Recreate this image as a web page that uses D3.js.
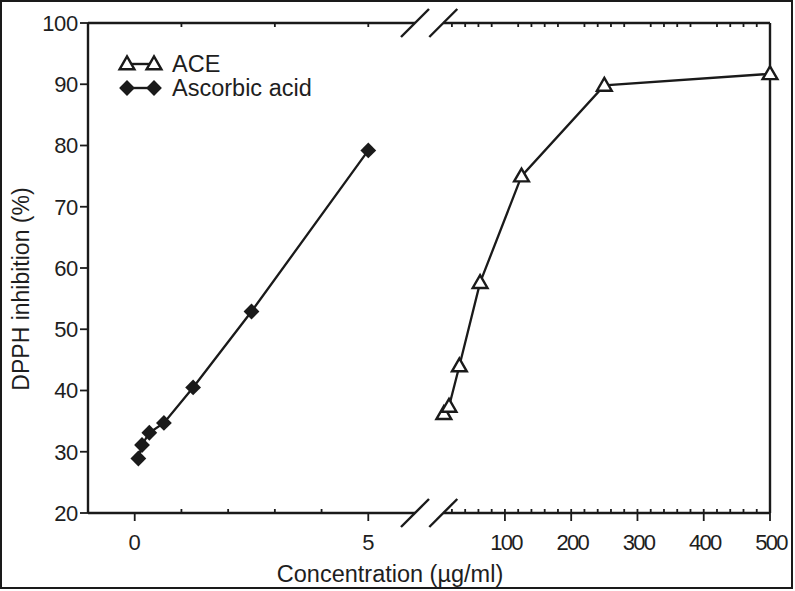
<!DOCTYPE html>
<html>
<head>
<meta charset="utf-8">
<script src="https://cdn.jsdelivr.net/npm/d3@7"></script>
<style>
  body { margin: 0; background: #fff; }
  text { font-family: "Liberation Sans", Arial, sans-serif; fill: #1e1e1e; }
</style>
</head>
<body>
<svg id="chart" width="795" height="591"></svg>
<script>
// data
const concAsc = [0.078, 0.156, 0.3125, 0.625, 1.25, 2.5, 5];
const inhAsc  = [28.9, 31.1, 33.1, 34.7, 40.5, 52.9, 79.2];
const concAce = [7.8, 15.6, 31.25, 62.5, 125, 250, 500];
const inhAce  = [36.2, 37.4, 44.0, 57.6, 75.0, 89.8, 91.7];
const yTicks = [20, 30, 40, 50, 60, 70, 80, 90, 100];
const leftMajor = [0, 5], leftMinor = [1, 2, 3, 4], leftTop = [1, 3, 5];
const rightMajor = [100, 200, 300, 400, 500];
const rightMinor = d3.range(20, 500, 20).filter(v => v % 100 !== 0);
const legendItems = ['ACE', 'Ascorbic acid'];

const ink = '#1a1a1a';
const svg = d3.select('#chart');

const xL = d3.scaleLinear().domain([-1, 6]).range([88, 415]);
const xR = d3.scaleLinear().domain([7, 500]).range([443.3, 770]);
const y = d3.scaleLinear().domain([20, 100]).range([513, 23]);
const yTop = y(100), yBot = y(20);

// outer frame of the figure
svg.append('rect').attr('x', 1).attr('y', 1).attr('width', 791).attr('height', 587)
  .attr('fill', 'none').attr('stroke', ink).attr('stroke-width', 2);

const axes = svg.append('g').attr('stroke', ink).attr('stroke-width', 2.4).attr('fill', 'none');
// left & right vertical axis lines
axes.append('line').attr('x1', xL(-1)).attr('x2', xL(-1)).attr('y1', yTop).attr('y2', yBot);
axes.append('line').attr('x1', xR(500)).attr('x2', xR(500)).attr('y1', yTop).attr('y2', yBot);
// horizontal segments, top and bottom
[yTop, yBot].forEach(yy => {
  axes.append('line').attr('x1', xL.range()[0]).attr('x2', xL.range()[1]).attr('y1', yy).attr('y2', yy);
  axes.append('line').attr('x1', xR.range()[0]).attr('x2', xR.range()[1]).attr('y1', yy).attr('y2', yy);
  // break slashes
  [xL.range()[1], xR.range()[0]].forEach(cx => {
    axes.append('line').attr('x1', cx - 14).attr('y1', yy + 14).attr('x2', cx + 14).attr('y2', yy - 14);
  });
});

// ticks
const tk = svg.append('g').attr('stroke', ink).attr('stroke-width', 1.8);
yTicks.forEach(v => tk.append('line').attr('x1', 80).attr('x2', xL(-1)).attr('y1', y(v)).attr('y2', y(v)));
leftMajor.forEach(v => tk.append('line').attr('x1', xL(v)).attr('x2', xL(v)).attr('y1', yBot).attr('y2', yBot + 8));
leftMinor.forEach(v => tk.append('line').attr('x1', xL(v)).attr('x2', xL(v)).attr('y1', yBot).attr('y2', yBot - 4));
leftTop.forEach(v => tk.append('line').attr('x1', xL(v)).attr('x2', xL(v)).attr('y1', yTop).attr('y2', yTop + 4));
rightMajor.forEach(v => tk.append('line').attr('x1', xR(v)).attr('x2', xR(v)).attr('y1', yBot - 4).attr('y2', yBot + 8));
rightMinor.forEach(v => {
  tk.append('line').attr('x1', xR(v)).attr('x2', xR(v)).attr('y1', yBot).attr('y2', yBot - 4);
  tk.append('line').attr('x1', xR(v)).attr('x2', xR(v)).attr('y1', yTop).attr('y2', yTop + 4);
});

// tick labels
const lab = svg.append('g').attr('font-size', 22);
yTicks.forEach(v => lab.append('text').attr('x', 78).attr('y', y(v)).attr('dy', '0.36em')
  .attr('text-anchor', 'end').attr('letter-spacing', -0.3).text(v));
leftMajor.forEach(v => lab.append('text').attr('x', xL(v)).attr('y', 550).attr('text-anchor', 'middle').text(v));
rightMajor.forEach(v => lab.append('text').attr('x', xR(v) + 1).attr('y', 550).attr('text-anchor', 'middle')
  .attr('letter-spacing', -1.8).text(v));

// axis titles
svg.append('text').attr('x', 390).attr('y', 582).attr('text-anchor', 'middle').attr('font-size', 23.5)
  .text('Concentration (µg/ml)');
svg.append('text').attr('transform', `translate(29,289) rotate(-90)`)
  .attr('text-anchor', 'middle').attr('font-size', 23).text('DPPH inhibition (%)');

// series
const tri = d3.symbol().type(d3.symbolTriangle).size(95);
const dia = d3.symbol().type(d3.symbolSquare).size(125);
const line = d3.line();

const ascPts = concAsc.map((c, i) => [xL(c), y(inhAsc[i])]);
const acePts = concAce.map((c, i) => [xR(c), y(inhAce[i])]);

svg.append('path').attr('d', line(ascPts)).attr('fill', 'none').attr('stroke', ink).attr('stroke-width', 2.3);
svg.append('path').attr('d', line(acePts)).attr('fill', 'none').attr('stroke', ink).attr('stroke-width', 2.3);

svg.append('g').selectAll('path').data(ascPts).join('path')
  .attr('d', dia).attr('transform', d => `translate(${d[0]},${d[1]}) rotate(45)`)
  .attr('fill', ink);
svg.append('g').selectAll('path').data(acePts).join('path')
  .attr('d', tri).attr('transform', d => `translate(${d[0]},${d[1] + 1})`)
  .attr('fill', '#fff').attr('stroke', ink).attr('stroke-width', 2.4);

// legend
const lg = svg.append('g');
legendItems.forEach((name, i) => {
  const ly = 64 + i * 24;
  lg.append('line').attr('x1', 127).attr('x2', 154).attr('y1', ly).attr('y2', ly)
    .attr('stroke', ink).attr('stroke-width', 2.4);
  [127, 154].forEach(lx => {
    if (i === 0) {
      lg.append('path').attr('d', tri).attr('transform', `translate(${lx},${ly + 1})`)
        .attr('fill', '#fff').attr('stroke', ink).attr('stroke-width', 2.4);
    } else {
      lg.append('path').attr('d', dia).attr('transform', `translate(${lx},${ly}) rotate(45)`).attr('fill', ink);
    }
  });
  lg.append('text').attr('x', 172).attr('y', ly).attr('dy', '0.36em').attr('font-size', 23.5).text(name);
});
</script>
</body>
</html>
